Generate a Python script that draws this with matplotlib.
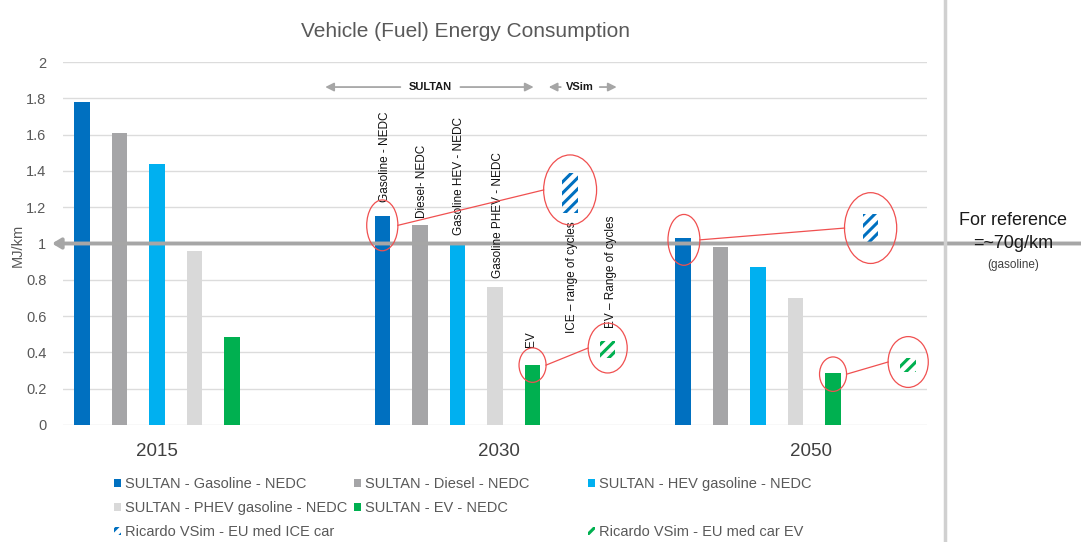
import numpy as np
import matplotlib.pyplot as plt
from matplotlib.patches import Ellipse, Patch

plt.rcParams['font.family'] = ['Liberation Sans', 'DejaVu Sans']
plt.rcParams['hatch.linewidth'] = 2.2

# data
years = ['2015', '2030', '2050']
sultan_names = ['SULTAN - Gasoline - NEDC', 'SULTAN - Diesel - NEDC',
                'SULTAN - HEV gasoline - NEDC', 'SULTAN - PHEV gasoline - NEDC',
                'SULTAN - EV - NEDC']
gasoline = [1.78, 1.15, 1.03]
diesel = [1.61, 1.10, 0.98]
hev = [1.44, 1.01, 0.87]
phev = [0.96, 0.76, 0.70]
ev = [0.485, 0.33, 0.285]
sultan = [gasoline, diesel, hev, phev, ev]

vsim_names = ['Ricardo VSim - EU med ICE car', 'Ricardo VSim - EU med car EV']
vsim_years = [1, 2]  # 2030, 2050
vsim_ice_low = [1.17, 0.99]
vsim_ice_high = [1.39, 1.16]
vsim_ev_low = [0.37, 0.29]
vsim_ev_high = [0.46, 0.37]

sultan_colors = ['#0070c0', '#a5a5a7', '#00b0f0', '#d9d9d9', '#00b050']
vsim_colors = ['#0070c0', '#00b050']
text_grey = '#595959'

fig = plt.figure(figsize=(10.81, 5.42), dpi=100)
ax = fig.add_axes([0.0583, 0.2159, 0.7992, 0.6697])

slot = 8
bw = 0.41
g = np.arange(len(years))
for k, vals in enumerate(sultan):
    ax.bar(g * slot + k, vals, width=bw, color=sultan_colors[k], zorder=2)

vg = np.array(vsim_years)
ax.bar(vg * slot + 5, np.array(vsim_ice_high) - np.array(vsim_ice_low),
       bottom=vsim_ice_low, width=bw, fill=False, hatch='///',
       edgecolor=vsim_colors[0], linewidth=0, zorder=2)
ax.bar(vg * slot + 6, np.array(vsim_ev_high) - np.array(vsim_ev_low),
       bottom=vsim_ev_low, width=bw, fill=False, hatch='///',
       edgecolor=vsim_colors[1], linewidth=0, zorder=2)

ax.set_xlim(-0.5, 22.5)
ax.set_ylim(0, 2)
yt = np.arange(0, 2.01, 0.2)
ax.set_yticks(yt, [f'{v:g}' for v in yt])
ax.set_xticks([2, 11.1, 19.4], years)
ax.tick_params(axis='y', length=0, pad=12, labelsize=10.5, labelcolor=text_grey)
ax.tick_params(axis='x', length=0, pad=13, labelsize=13.5, labelcolor='#404040')
ax.grid(axis='y', color='#dcdcdc', lw=1, zorder=0)
for s in ax.spines.values():
    s.set_visible(False)
ax.set_ylabel('MJ/km', fontsize=10.5, color=text_grey, va='center')
ax.yaxis.set_label_coords(-0.052, 0.496)
fig.text(0.431, 0.942, 'Vehicle (Fuel) Energy Consumption', ha='center',
         va='center', fontsize=15, color=text_grey)

# reference line at 1 MJ/km
ax.annotate('', xy=(52 / 1081, 1), xycoords=('figure fraction', 'data'),
            xytext=(1.0, 1), textcoords=('figure fraction', 'data'),
            arrowprops=dict(arrowstyle='-|>,head_length=0.5,head_width=0.3',
                            color='#a6a6a6', lw=2.8, shrinkA=0, shrinkB=0),
            annotation_clip=False, zorder=3)
fig.add_artist(plt.Line2D([945 / 1081] * 2, [0, 1], color='#d0d0d0', lw=2.5))
fig.text(1013 / 1081, 1 - 220 / 542, 'For reference', ha='center', va='center',
         fontsize=13, color='#1a1a1a')
fig.text(1013 / 1081, 1 - 243 / 542, '=~70g/km', ha='center', va='center',
         fontsize=13, color='#1a1a1a')
fig.text(1013 / 1081, 1 - 265 / 542, '(gasoline)', ha='center', va='center',
         fontsize=8.5, color='#404040')

# SULTAN / VSim range arrows
arr = dict(arrowstyle='-|>,head_length=0.5,head_width=0.25', color='#a6a6a6',
           lw=1.3, shrinkA=0, shrinkB=0)
for x0, x1 in [(8.48, 6.48), (10.08, 12.03), (12.75, 12.43), (13.79, 14.24)]:
    ax.annotate('', xy=(x1, 1.862), xytext=(x0, 1.862), arrowprops=arr)
ax.text(9.28, 1.862, 'SULTAN', ha='center', va='center', fontsize=8,
        fontweight='bold', color='#1a1a1a')
ax.text(13.27, 1.862, 'VSim', ha='center', va='center', fontsize=8,
        fontweight='bold', color='#1a1a1a')

# rotated labels over 2030 bars
labels_2030 = [('Gasoline - NEDC', 8.08, 1.23), ('Diesel- NEDC', 9.07, 1.14),
               ('Gasoline HEV - NEDC', 10.05, 1.047),
               ('Gasoline PHEV - NEDC', 11.07, 0.81), ('EV', 11.97, 0.43),
               ('ICE \u2013 range of cycles', 13.04, 0.507),
               ('EV \u2013 Range of cycles', 14.08, 0.534)]
for txt, x, y in labels_2030:
    ax.text(x, y, txt, rotation=90, ha='center', va='bottom', fontsize=8.5,
            color='#111111')

# red callouts
red = '#f05050'
callouts = [((8.0, 1.10, 0.83, 0.28), (13.0, 1.295, 1.41, 0.386)),
            ((12.0, 0.33, 0.72, 0.19), (14.0, 0.424, 1.04, 0.275)),
            ((16.03, 1.02, 0.85, 0.28), (21.0, 1.085, 1.39, 0.39)),
            ((20.0, 0.28, 0.72, 0.19), (22.0, 0.347, 1.07, 0.28))]
for small, big in callouts:
    for cx, cy, w, h in (small, big):
        ax.add_patch(Ellipse((cx, cy), w, h, fill=False, edgecolor=red,
                             lw=0.9, zorder=4, clip_on=False))
    ax.plot([small[0] + small[2] / 2, big[0] - big[2] / 2],
            [small[1], big[1]], color=red, lw=0.9, zorder=4)

# legend
h = [Patch(facecolor=c, edgecolor='none') for c in sultan_colors]
hv = [Patch(facecolor='none', edgecolor=c, hatch='///', lw=0) for c in vsim_colors]
blank = Patch(facecolor='none', edgecolor='none')
leg_kw = dict(frameon=False, fontsize=10.5, labelcolor=text_grey,
              handlelength=0.5, handleheight=0.5, handletextpad=0.25,
              labelspacing=0.68, borderpad=0, borderaxespad=0)
leg1 = fig.legend([h[0], h[3], hv[0], h[1], h[4]],
                  [sultan_names[0], sultan_names[3], vsim_names[0],
                   sultan_names[1], sultan_names[4]],
                  ncol=2, columnspacing=0.45, loc='upper left',
                  bbox_to_anchor=(114 / 1081, 1 - 477 / 542), **leg_kw)
leg2 = fig.legend([h[2], blank, hv[1]], [sultan_names[2], '', vsim_names[1]],
                  loc='upper left', bbox_to_anchor=(588 / 1081, 1 - 477 / 542),
                  **leg_kw)

fig.savefig('out.png', dpi=100)
